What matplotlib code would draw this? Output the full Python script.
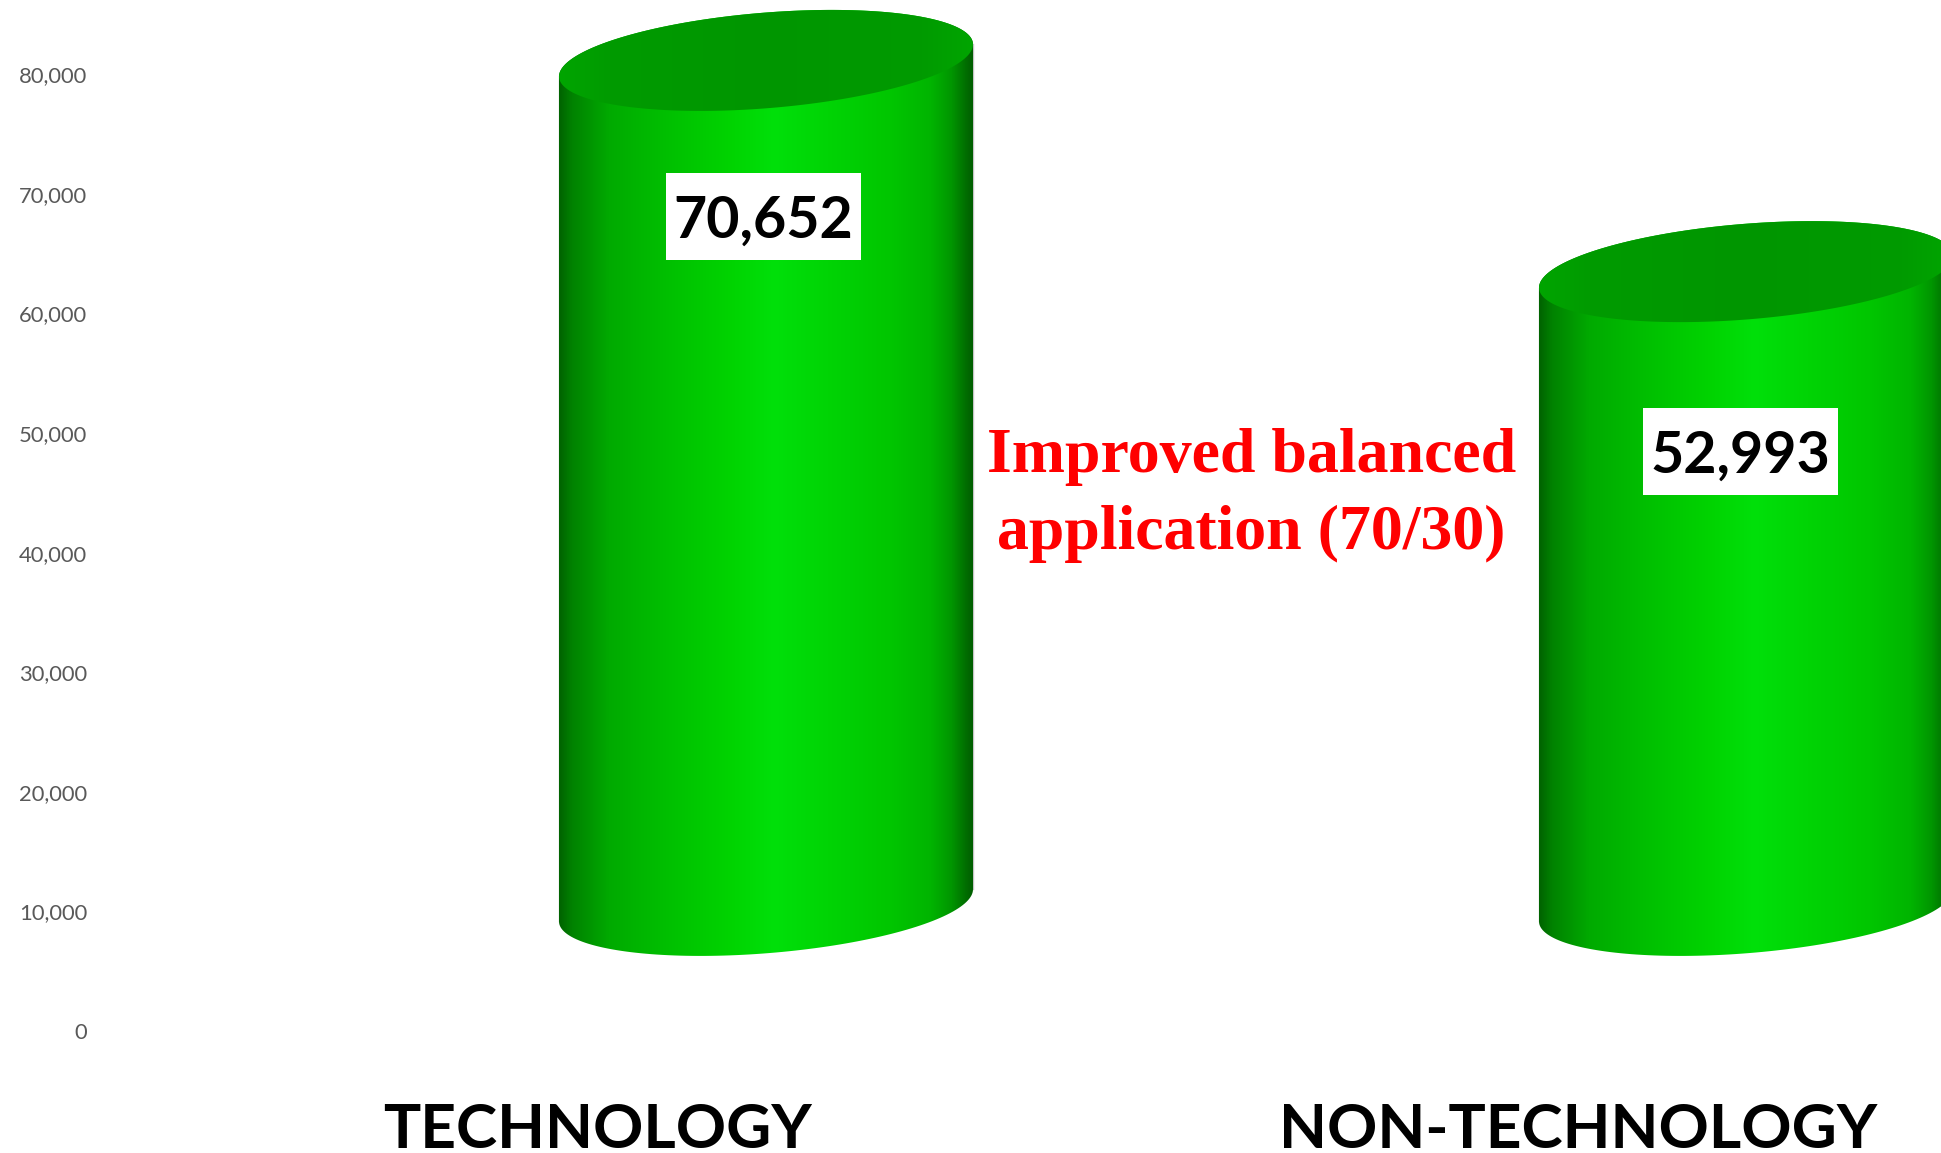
import numpy as np
import matplotlib.pyplot as plt
from matplotlib.colors import LinearSegmentedColormap
from matplotlib.patches import PathPatch, Rectangle
from matplotlib.path import Path

categories = ['TECHNOLOGY', 'NON-TECHNOLOGY']
values = [70652, 52993]
value_labels = ['70,652', '52,993']
y_ticks = [0, 10000, 20000, 30000, 40000, 50000, 60000, 70000, 80000]

W, H = 1941, 1153
ZERO_PX = 1031
UNITS_PER_PX = 10000 / 119.6
BASE = 10500              # the cylinders float above zero in the original
HALF_W = 207 / 980        # x axis unit is 980 px
TILT = 16 * UNITS_PER_PX
MINOR = 47.9 * UNITS_PER_PX
LABEL_Y = [68100, 48450]
LABEL_X = [-0.003, -0.006]
BOX_W = 195 / 980
BOX_H = 87 * UNITS_PER_PX

side_cmap = LinearSegmentedColormap.from_list('side', [
    (0.00, (0, 100/255, 0)), (0.03, (0, 130/255, 0)), (0.12, (0, 170/255, 0)),
    (0.25, (0, 190/255, 0)), (0.40, (0, 210/255, 0)), (0.52, (0, 224/255, 10/255)),
    (0.65, (0, 212/255, 5/255)), (0.80, (0, 198/255, 0)), (0.90, (0, 180/255, 0)),
    (0.95, (0, 150/255, 0)), (0.985, (0, 110/255, 0)), (1.00, (0, 95/255, 0))])
top_cmap = LinearSegmentedColormap.from_list('top', [
    (0.00, (0, 165/255, 0)), (0.12, (0, 155/255, 0)), (0.50, (0, 150/255, 0)),
    (0.88, (0, 155/255, 0)), (1.00, (0, 165/255, 0))])

plt.rcParams['font.family'] = 'Lato'
fig = plt.figure(figsize=(W / 100, H / 100), dpi=100)
ax = fig.add_axes([100 / W, (H - ZERO_PX) / H, (W - 100) / W, ZERO_PX / H])


def ellipse(cx, cy, t):
    return cx + HALF_W * np.cos(t), cy + TILT * np.cos(t) + MINOR * np.sin(t)


grad = np.linspace(0, 1, 256).reshape(1, -1)
for i, v in enumerate(values):
    y0 = BASE
    y1 = BASE + v
    # side of the cylinder
    xb, yb = ellipse(i, y0, np.linspace(np.pi, 2 * np.pi, 100))
    xt, yt = ellipse(i, y1, np.linspace(0, np.pi, 100))
    side = np.column_stack([np.r_[xb, xt], np.r_[yb, yt]])
    im = ax.imshow(grad, cmap=side_cmap, aspect='auto', zorder=2,
                   extent=[i - HALF_W, i + HALF_W, y0 - 2 * MINOR, y1 + 2 * MINOR])
    patch = PathPatch(Path(np.vstack([side, side[0]]), closed=True), fc='none', ec='none')
    ax.add_patch(patch)
    im.set_clip_path(patch)
    ax.plot(xb[[0, 0]], [yb[0], yt[-1]], color='#c4c4c4', lw=1, zorder=1)
    ax.plot(xb[[-1, -1]], [yb[-1], yt[0]], color='#c4c4c4', lw=1, zorder=1)

    # top face
    xe, ye = ellipse(i, y1, np.linspace(0, 2 * np.pi, 200))
    im2 = ax.imshow(grad, cmap=top_cmap, aspect='auto', zorder=3,
                    extent=[i - HALF_W, i + HALF_W, y1 - 2 * MINOR, y1 + 2 * MINOR])
    patch2 = PathPatch(Path(np.column_stack([xe, ye]), closed=True), fc='none', ec='none')
    ax.add_patch(patch2)
    im2.set_clip_path(patch2)

    # value label on a white box
    lx = i + LABEL_X[i]
    ax.add_patch(Rectangle((lx - BOX_W / 2, LABEL_Y[i] - BOX_H / 2), BOX_W, BOX_H,
                           fc='white', ec='none', zorder=4))
    ax.text(lx, LABEL_Y[i] - 5 * UNITS_PER_PX, value_labels[i], fontsize=41.3, fontweight='bold',
            color='black', ha='center', va='center', zorder=5)

ax.text(0.4955, 44750, 'Improved balanced\napplication (70/30)', color='#ff0000',
        family='Liberation Serif', fontweight='bold', fontsize=46, ha='center',
        va='center', linespacing=1.42, zorder=5)

ax.set_xlim(-666 / 980, (W - 766) / 980)
ax.set_ylim(0, ZERO_PX * UNITS_PER_PX)
ax.set_yticks(y_ticks)
ax.set_yticklabels([f'{t:,}' for t in y_ticks], fontsize=15.8, color='#595959')
ax.set_xticks([i - 168 / 980 for i in range(len(categories))])
ax.set_xticklabels(categories, fontsize=44.8, fontweight='bold', color='black')
ax.tick_params(axis='y', length=0, pad=9.3)
ax.tick_params(axis='x', length=0, pad=51)
for s in ax.spines.values():
    s.set_visible(False)

fig.savefig('out.png', dpi=100)
